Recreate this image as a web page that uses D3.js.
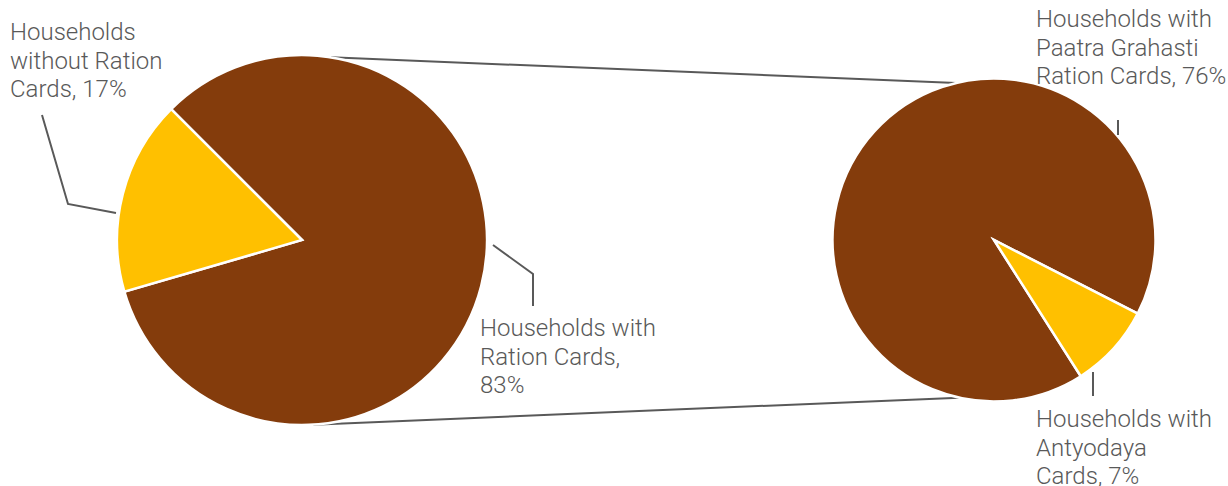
<!doctype html>
<html>
<head>
<meta charset="utf-8">
<script src="https://d3js.org/d3.v7.min.js"></script>
<style>
body { margin: 0; background: #fff; }
svg { display: block; }
.lbl { font-family: Roboto, sans-serif; font-weight: 300; font-size: 24px; fill: #595959; }
.leader { fill: none; stroke: #595959; stroke-width: 2; }
</style>
</head>
<body>
<script>
// main pie
var mainNames = ["Households with Ration Cards", "Households without Ration Cards"];
var mainValues = [83, 17];
// second pie: split of households with ration cards
var subNames = ["Households with Paatra Grahasti Ration Cards", "Households with Antyodaya Cards"];
var subValues = [76, 7];
var colors = ["#843C0C", "#FFC000"];

var width = 1228, height = 486;
var svg = d3.select("body").append("svg").attr("width", width).attr("height", height);

var deg = Math.PI / 180;
var left = {cx: 302, cy: 240, r: 185, start: -45 * deg};
var right = {cx: 994, cy: 240, r: 161.5, start: 147.5 * deg};

function drawPie(cfg, values) {
  var pie = d3.pie().sort(null).startAngle(cfg.start).endAngle(cfg.start + 2 * Math.PI);
  var arc = d3.arc().innerRadius(0).outerRadius(cfg.r);
  var g = svg.append("g").attr("transform", "translate(" + cfg.cx + "," + cfg.cy + ")");
  g.selectAll("path").data(pie(values)).enter().append("path")
    .attr("d", arc)
    .attr("fill", function(d, i) { return colors[i]; })
    .attr("stroke", "#fff").attr("stroke-width", 2.5).attr("stroke-linejoin", "miter");
}

// connector lines between the two pies
function pt(cfg, a) {
  var p = d3.pointRadial(a * deg, cfg.r);
  return [cfg.cx + p[0], cfg.cy + p[1]];
}
var conn = [[pt(left, 9), pt(right, -13.5)], [pt(left, 176.5), pt(right, 192.5)]];
svg.selectAll(".conn").data(conn).enter().append("path")
  .attr("class", "leader")
  .attr("d", function(d) { return d3.line()(d); });

drawPie(left, mainValues);
drawPie(right, subValues);

// leader lines
var leaders = [
  [[42, 115], [68, 204], [116, 213]],
  [[493, 245], [533, 274], [533, 306]],
  [[1118, 120], [1118, 135]],
  [[1093, 372], [1093, 396]]
];
svg.selectAll(".ld").data(leaders).enter().append("path")
  .attr("class", "leader")
  .attr("d", function(d) { return d3.line()(d); });

var labels = [
  {x: 10, y: 40, lines: ["Households", "without Ration", "Cards, " + mainValues[1] + "%"]},
  {x: 480, y: 336, lines: ["Households with", "Ration Cards,", mainValues[0] + "%"]},
  {x: 1036, y: 27, lines: ["Households with", "Paatra Grahasti", "Ration Cards, " + subValues[0] + "%"]},
  {x: 1036, y: 427, lines: ["Households with", "Antyodaya", "Cards, " + subValues[1] + "%"]}
];
labels.forEach(function(l) {
  var t = svg.append("text").attr("class", "lbl").attr("x", l.x).attr("y", l.y);
  l.lines.forEach(function(s, i) {
    t.append("tspan").attr("x", l.x).attr("dy", i === 0 ? 0 : 28.5).text(s);
  });
});
</script>
</body>
</html>
